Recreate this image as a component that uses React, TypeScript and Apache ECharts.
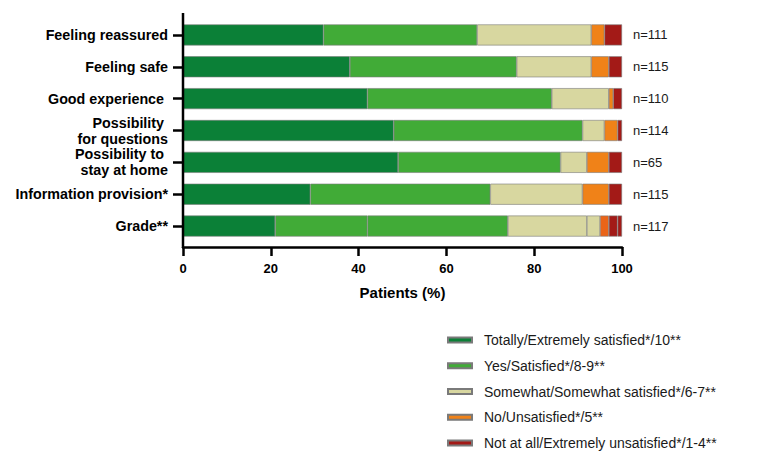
import React, { useEffect, useRef } from "react";
import * as echarts from "echarts";

const categories = [
  "Feeling reassured",
  "Feeling safe",
  "Good experience ",
  "Possibility \nfor questions",
  "Possibility to \nstay at home",
  "Information provision*",
  "Grade**",
];
const nLabels = ["n=111", "n=115", "n=110", "n=114", "n=65", "n=115", "n=117"];

const totally = [32, 38, 42, 48, 49, 29, 21];
const yes = [35, 38, 42, 43, 37, 41, 21];
const yesGrade8 = ["-", "-", "-", "-", "-", "-", 32];
const somewhat = [26, 17, 13, 5, 6, 21, 18];
const somewhatGrade6 = ["-", "-", "-", "-", "-", "-", 3];
const no = [3, 4, 1, 3, 5, 6, 2];
const notAtAll = [4, 3, 2, 1, 3, 3, 2];
const notAtAllGrade1to3 = ["-", "-", "-", "-", "-", "-", 1];

const xTicks = [0, 20, 40, 60, 80, 100];

const legendNames = [
  "Totally/Extremely satisfied*/10**",
  "Yes/Satisfied*/8-9**",
  "Somewhat/Somewhat satisfied*/6-7**",
  "No/Unsatisfied*/5**",
  "Not at all/Extremely unsatisfied*/1-4**",
];

const C_DARK = "#0b8037";
const C_GREEN = "#41ab37";
const C_BEIGE = "#d8d7a0";
const C_ORANGE = "#f08218";
const C_ORANGE_GRADE = "#ea6418";
const C_RED = "#a31a17";

export default function App() {
  const ref = useRef<HTMLDivElement>(null);
  useEffect(() => {
    if (!ref.current) return;
    const chart = echarts.init(ref.current, null, { renderer: "svg" });
    const font = "'Liberation Sans', Arial, sans-serif";
    const mk = (name: string, data: any[], color: string) => ({
      name,
      type: "bar",
      stack: "total",
      barWidth: 21,
      data,
      itemStyle: { color, borderColor: "#7a7a7a", borderWidth: 0.6 },
      emphasis: { disabled: true },
    });
    const gradeIdx = categories.length - 1;
    const noData = no.map((v, i) =>
      i === gradeIdx ? { value: v, itemStyle: { color: C_ORANGE_GRADE } } : v
    );
    chart.setOption({
      animation: false,
      textStyle: { fontFamily: font },
      grid: { left: 183, right: 136, top: 19, height: 223, containLabel: false },
      legend: {
        data: legendNames,
        orient: "vertical",
        left: 447,
        top: 333,
        padding: 0,
        itemWidth: 24,
        itemHeight: 5,
        itemGap: 11.75,
        icon: "rect",
        selectedMode: false,
        textStyle: {
          fontSize: 14,
          lineHeight: 14,
          color: "#1a1a1a",
          fontFamily: font,
          padding: [0, 0, 0, 7],
        },
      },
      xAxis: {
        type: "value",
        min: 0,
        max: 100,
        interval: 20,
        offset: 5,
        name: "Patients (%)",
        nameLocation: "middle",
        nameGap: 38,
        nameTextStyle: { fontSize: 15, fontWeight: "bold", color: "#000", fontFamily: font },
        splitLine: { show: false },
        axisLine: { show: true, lineStyle: { color: "#000", width: 2.5 } },
        axisTick: { show: true, length: 9, lineStyle: { color: "#000", width: 2.5 } },
        axisLabel: {
          fontSize: 13,
          fontWeight: "bold",
          color: "#000",
          margin: 15,
          fontFamily: font,
          formatter: (v: number) => (xTicks.includes(v) ? String(v) : ""),
        },
      },
      yAxis: [
        {
          type: "category",
          data: categories,
          inverse: true,
          axisLine: { show: false },
          axisTick: { show: true, alignWithLabel: true, length: 10, lineStyle: { color: "#000", width: 2.5 } },
          axisLabel: {
            fontSize: 14.3,
            fontWeight: "bold",
            color: "#000",
            margin: 15,
            lineHeight: 16,
            fontFamily: font,
          },
        },
        {
          type: "category",
          data: nLabels,
          inverse: true,
          position: "right",
          axisLine: { show: false },
          axisTick: { show: false },
          axisLabel: { fontSize: 13, color: "#1a1a1a", margin: 11, fontFamily: font },
        },
      ],
      graphic: [
        {
          type: "line",
          shape: { x1: 183, y1: 13, x2: 183, y2: 248 },
          style: { stroke: "#000", lineWidth: 2.5 },
          z: 100,
        },
      ],
      series: [
        mk(legendNames[0], totally, C_DARK),
        mk(legendNames[1], yes, C_GREEN),
        mk("Grade 8", yesGrade8, C_GREEN),
        mk(legendNames[2], somewhat, C_BEIGE),
        mk("Grade 6", somewhatGrade6, C_BEIGE),
        mk(legendNames[3], noData, C_ORANGE),
        mk(legendNames[4], notAtAll, C_RED),
        mk("Grade 1-3", notAtAllGrade1to3, C_RED),
      ],
    });
    return () => chart.dispose();
  }, []);
  return (
    <div
      ref={ref}
      style={{ position: "absolute", left: 0, top: 0, width: 758, height: 459, background: "#fff" }}
    />
  );
}
